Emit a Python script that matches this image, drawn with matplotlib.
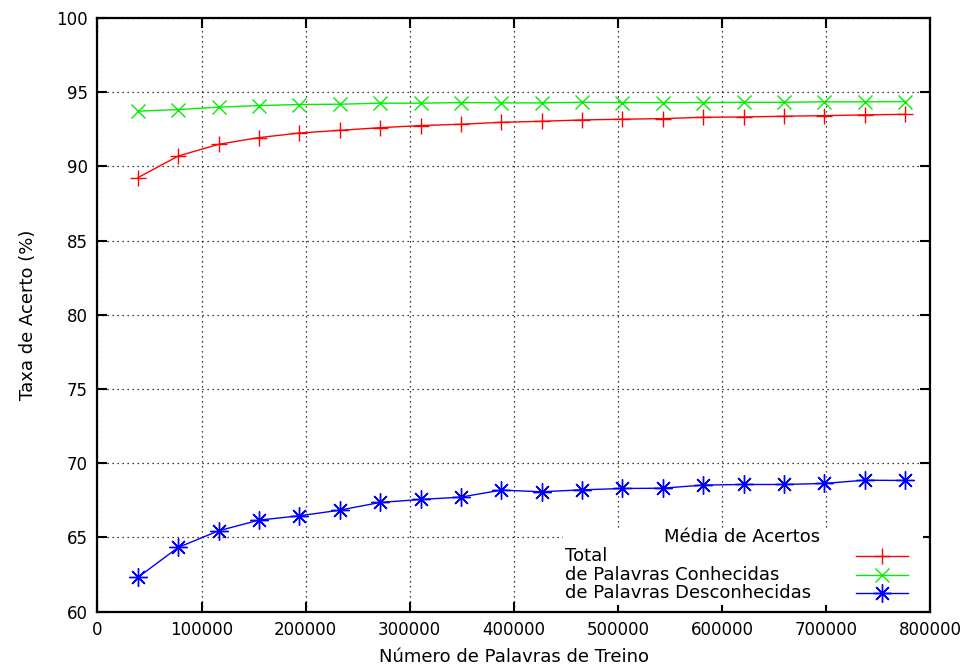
import matplotlib
matplotlib.use("Agg")
import matplotlib.pyplot as plt
from matplotlib.patches import Rectangle

# palavras de treino (eixo x) e taxas de acerto (%)
palavras = [38800, 77600, 116400, 155200, 194000, 232800, 271600, 310400, 349200, 388000,
            426800, 465600, 504400, 543200, 582000, 620800, 659600, 698400, 737200, 776000]
total = [89.24, 90.70, 91.49, 91.94, 92.25, 92.43, 92.61, 92.75, 92.84, 92.97,
         93.04, 93.13, 93.18, 93.22, 93.31, 93.33, 93.38, 93.42, 93.47, 93.51]
conhecidas = [93.72, 93.83, 93.99, 94.10, 94.17, 94.19, 94.26, 94.26, 94.30, 94.28,
              94.28, 94.32, 94.30, 94.30, 94.30, 94.32, 94.32, 94.35, 94.35, 94.37]
desconhecidas = [62.31, 64.33, 65.45, 66.17, 66.46, 66.84, 67.36, 67.56, 67.72, 68.19,
                 68.08, 68.21, 68.30, 68.32, 68.53, 68.57, 68.57, 68.64, 68.86, 68.84]

series = [
    ("Total", total, "#ff0000", "+", 12),
    ("de Palavras Conhecidas", conhecidas, "#00ee00", "x", 10),
    ("de Palavras Desconhecidas", desconhecidas, "#0000ff", (8, 2, 0), 13),
]

plt.rcParams["font.family"] = "DejaVu Sans"
plt.rcParams["font.size"] = 13

fig = plt.figure(figsize=(9.72, 6.71), dpi=100)
ax = fig.add_axes([0.1003, 0.0884, 0.8565, 0.8848])

for nome, vals, cor, mk, ms in series:
    ax.plot(palavras, vals, color=cor, lw=1, marker=mk, ms=ms, mew=1, zorder=2)

ax.set_xlim(0, 800000)
ax.set_ylim(60, 100)
ax.set_xticks(range(0, 800001, 100000))
ax.set_yticks(range(60, 101, 5))
ax.grid(True, color="black", linestyle=(0, (1, 3)), linewidth=0.9)
ax.set_axisbelow(True)
ax.tick_params(direction="in", length=7, width=1.5, top=True, right=True,
               labelsize=12, pad=7)
for s in ax.spines.values():
    s.set_linewidth(1.6)
    s.set_zorder(5)

ax.set_xlabel("Número de Palavras de Treino", fontsize=13, labelpad=6)
ax.set_ylabel("Taxa de Acerto (%)", fontsize=13, labelpad=14)

# chave estilo gnuplot: fundo branco, texto à esquerda, amostras à direita
ax.add_patch(Rectangle((0.559, 0.012), 0.432, 0.129, transform=ax.transAxes,
                       facecolor="white", edgecolor="none", zorder=1))
ax.text(0.774, 0.1179, "Média de Acertos", transform=ax.transAxes,
        ha="center", va="baseline", fontsize=13, zorder=3)
texto_y = [0.0854, 0.0536, 0.0236]
linhas_y = [0.0938, 0.0618, 0.0309]
for (nome, vals, cor, mk, ms), yt, yk in zip(series, texto_y, linhas_y):
    ax.text(0.5616, yt, nome, transform=ax.transAxes, ha="left", va="baseline",
            fontsize=13, zorder=3)
    ax.plot([0.911, 0.973], [yk, yk], color=cor, lw=1, transform=ax.transAxes,
            clip_on=False, zorder=3)
    ax.plot([0.942], [yk], color=cor, marker=mk, ms=ms, mew=1,
            transform=ax.transAxes, clip_on=False, zorder=3)

fig.savefig("out.png", dpi=100)
